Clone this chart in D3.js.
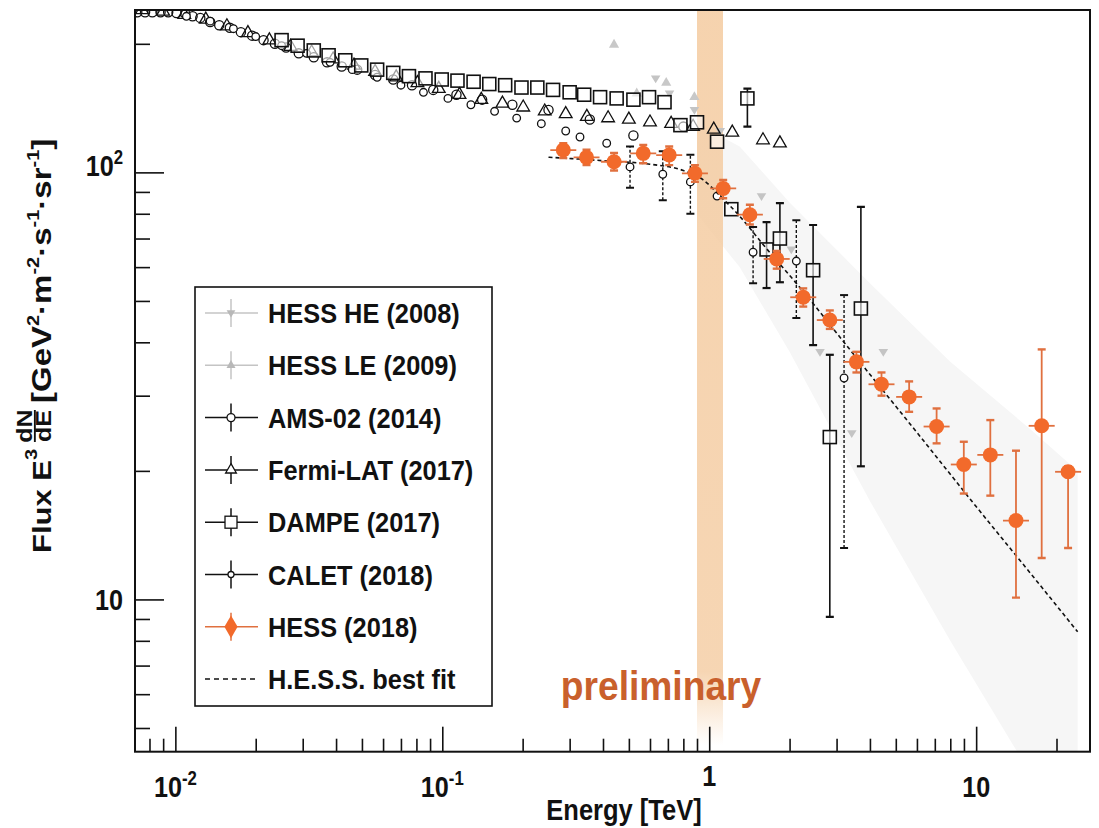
<!doctype html>
<html>
<head>
<script src="https://cdnjs.cloudflare.com/ajax/libs/d3/7.8.5/d3.min.js"></script>
<style>
body { margin: 0; background: #fff; }
text { font-family: "Liberation Sans", Arial, sans-serif; font-weight: bold; fill: #111; }
</style>
</head>
<body>
<svg id="chart" width="1099" height="828"></svg>
<script>
// ---- data (E in TeV, flux E^3 dN/dE in GeV^2 m^-2 s^-1 sr^-1) ----
const amsE = [0.0072,0.0077,0.0082,0.0088,0.0094,0.0101,0.0109,0.0116,0.0124,0.0135,0.0146,0.016,0.0176,0.0194,0.0214,0.0236,0.026,0.029,0.033,0.037,0.042,0.048,0.056,0.0655,0.077,0.0925,0.113,0.141,0.183,0.25,0.357,0.52,0.80];
const amsF = [237,237,237,237,237,236,235,232,230,225,221,218,213,209,204,200,196,190,186,181,177,174,169,165,160,156,152,148,144,140,133,122,128];

const fermiE = [0.0075,0.009,0.0108,0.013,0.0156,0.0187,0.0225,0.027,0.0324,0.039,0.0467,0.056,0.0672,0.0807,0.097,0.116,0.14,0.168,0.201,0.242,0.29,0.348,0.418,0.50,0.60,0.72,0.87,1.04,1.22,1.59,1.84];
const fermiF = [240,238,234,228,220,212,204,197,191,184,178,172,167,162,157,152,148,145,142,139,137,135,134,133,131,130,128,126,124,119,117];

const dampeE = [0.025,0.0287,0.033,0.0375,0.0433,0.0497,0.057,0.0655,0.075,0.0865,0.0995,0.114,0.131,0.15,0.172,0.198,0.227,0.26,0.30,0.34,0.39,0.45,0.52,0.595,0.68,0.78,0.9,1.07,1.21,1.39,1.64,1.84,2.45,2.83,3.7];
const dampeF = [204,198,193,188,183,178,174,171,168,166,165,164,163,161,160,158,158,156,154,152,150,149,148,150,146,129,131,118,82,149,66,70,59,24,48];
const dampeErrE = [1.39,1.64,1.84,2.45,2.83,3.7];
const dampeErrLo = [128,53.6,55.3,39.4,9.1,20.5];
const dampeErrHi = [157,76.5,84.7,75.3,37.4,83];

const caletE = [0.011,0.0135,0.0165,0.02,0.025,0.031,0.038,0.046,0.057,0.07,0.085,0.105,0.128,0.157,0.19,0.235,0.29,0.328,0.413,0.505,0.67,0.85,1.07,1.46,2.12,3.2];
const caletF = [232,226,217,208,198,190,181,174,167,160,154,149,144,139,134,130,125,121,117,103,99,95,88,65,62,33];
const caletErrE = [0.505,0.67,0.85,1.46,2.12,3.2];
const caletErrLo = [92,86,80,55,45.6,13.2];
const caletErrHi = [115,112,110,74.5,77.3,51.6];

const hessHeE = [0.63,0.71,0.88,1.1,1.57,2.03,2.6,3.42,4.49];
const hessHeF = [166,153,140,125,88,66,38,24.5,38];
const hessLeE = [0.44,0.535,0.69,0.88];
const hessLeF = [199,153,162,150];

const hessE = [0.284,0.347,0.44,0.566,0.708,0.884,1.128,1.42,1.79,2.25,2.83,3.56,4.42,5.61,7.11,8.99,11.3,14.1,17.6,22.1];
const hessF = [112.8,108.4,105.9,110.8,109.8,99.5,91.7,79.6,62.7,51.0,45.1,36.0,31.9,29.8,25.4,20.7,21.8,15.3,25.5,19.9];
const hessLo = [108,104,101,105,104,95,87,75.5,59.5,48.5,43,34,30,27.5,23.2,17.7,17.5,10.1,12.5,13.2];
const hessHi = [117,113,111,116,115,104,96,84,65.5,53.5,47.5,38,34,32.4,28.0,23.4,26.3,22.3,38.5,20.5];

const fitE = [0.25,0.4,0.6,0.8,0.95,1.1,1.3,1.6,2.2,3.5,6,10,16,24];
const fitF = [108.5,106.5,104.5,101,96,88,79,67.5,53.5,37.3,24.6,16.5,11.5,8.4];

const bandE = [0.9,1.3,2,4,8,16,24];
const bandHi = [130,115,85,55,36,25,20];
const bandLo = [80,60,38,17,8,3.9,3.0];

const legendNames = ["HESS HE (2008)","HESS LE (2009)","AMS-02 (2014)","Fermi-LAT (2017)","DAMPE (2017)","CALET (2018)","HESS (2018)","H.E.S.S. best fit"];

// ---- layout ----
const L = 135, R = 1090, T = 10, B = 751.7;
const svg = d3.select("#chart");
const x = d3.scaleLog().domain([0.00706, 26.7]).range([L, R]);
const y = d3.scaleLog().domain([4.40, 240]).range([B, T]);
const orange = "#f26a2b", orangeBar = "#e0703f";

svg.append("rect").attr("width", 1099).attr("height", 828).attr("fill", "#fff");

const defs = svg.append("defs");
defs.append("clipPath").attr("id", "plot").append("rect")
  .attr("x", L).attr("y", T).attr("width", R - L).attr("height", B - T);
const grad = defs.append("linearGradient").attr("id", "bandfade").attr("x1", 0).attr("x2", 0).attr("y1", 0).attr("y2", 1);
grad.append("stop").attr("offset", "0").attr("stop-color", "#f4cba0").attr("stop-opacity", 0.85);
grad.append("stop").attr("offset", "0.9").attr("stop-color", "#f4cba0").attr("stop-opacity", 0.8);
grad.append("stop").attr("offset", "1").attr("stop-color", "#f4cba0").attr("stop-opacity", 0);

const plot = svg.append("g").attr("clip-path", "url(#plot)");

// faint systematic band
plot.append("path")
  .datum(bandE.map((e, i) => [e, bandLo[i], bandHi[i]]))
  .attr("fill", "#f6f6f6")
  .attr("d", d3.area().x(d => x(d[0])).y0(d => y(d[1])).y1(d => y(d[2])));

// 1 TeV band
plot.append("rect").attr("x", 697).attr("width", 26).attr("y", T).attr("height", 735)
  .attr("fill", "url(#bandfade)");

// error bar helper
function bars(g, E, lo, hi, color, width, dash) {
  g.selectAll(null).data(E.map((e, i) => [e, lo[i], hi[i]])).enter().append("line")
    .attr("x1", d => x(d[0])).attr("x2", d => x(d[0]))
    .attr("y1", d => y(d[1])).attr("y2", d => y(d[2]))
    .attr("stroke", color).attr("stroke-width", width).attr("stroke-dasharray", dash || null);
  g.selectAll(null).data(E.flatMap((e, i) => [[e, lo[i]], [e, hi[i]]])).enter().append("line")
    .attr("x1", d => x(d[0]) - 4).attr("x2", d => x(d[0]) + 4)
    .attr("y1", d => y(d[1])).attr("y2", d => y(d[1]))
    .attr("stroke", color).attr("stroke-width", width + 0.6);
}

const sym = (type, size) => d3.symbol().type(type).size(size);
const triDown = { draw(ctx, size) { const r = Math.sqrt(size) * 0.62; ctx.moveTo(-r, -r * 0.6); ctx.lineTo(r, -r * 0.6); ctx.lineTo(0, r); ctx.closePath(); } };

// gray old HESS
const gHE = plot.append("g");
gHE.selectAll("path").data(hessHeE.map((e, i) => [e, hessHeF[i]])).enter().append("path")
  .attr("transform", d => `translate(${x(d[0])},${y(d[1])})`)
  .attr("d", sym(triDown, 60)).attr("fill", "#c4c4c4");
const gLE = plot.append("g");
gLE.selectAll("path").data(hessLeE.map((e, i) => [e, hessLeF[i]])).enter().append("path")
  .attr("transform", d => `translate(${x(d[0])},${y(d[1])})`)
  .attr("d", sym(d3.symbolTriangle, 45)).attr("fill", "#c8c8c8");

// AMS-02
const gA = plot.append("g");
gA.selectAll("circle").data(amsE.map((e, i) => [e, amsF[i]])).enter().append("circle")
  .attr("cx", d => x(d[0])).attr("cy", d => y(d[1])).attr("r", 4.6)
  .attr("fill", "none").attr("stroke", "#111").attr("stroke-width", 1.3);

// Fermi-LAT
const gF = plot.append("g");
gF.selectAll("path").data(fermiE.map((e, i) => [e, fermiF[i]])).enter().append("path")
  .attr("transform", d => `translate(${x(d[0])},${y(d[1])})`)
  .attr("d", sym(d3.symbolTriangle, 70))
  .attr("fill", "none").attr("stroke", "#111").attr("stroke-width", 1.3);

// CALET
const gC = plot.append("g");
bars(gC, caletErrE, caletErrLo, caletErrHi, "#111", 1.4, "3,2");
gC.selectAll("circle").data(caletE.map((e, i) => [e, caletF[i]])).enter().append("circle")
  .attr("cx", d => x(d[0])).attr("cy", d => y(d[1])).attr("r", 3.8)
  .attr("fill", "#fff").attr("stroke", "#111").attr("stroke-width", 1.3);

// DAMPE
const gD = plot.append("g");
bars(gD, dampeErrE, dampeErrLo, dampeErrHi, "#111", 1.6);
gD.selectAll("rect").data(dampeE.map((e, i) => [e, dampeF[i]])).enter().append("rect")
  .attr("x", d => x(d[0]) - 6.5).attr("y", d => y(d[1]) - 6.5).attr("width", 13).attr("height", 13)
  .attr("fill", "#fff").attr("fill-opacity", 0.6).attr("stroke", "#111").attr("stroke-width", 1.6);

// HESS best fit
plot.append("path").datum(fitE.map((e, i) => [e, fitF[i]]))
  .attr("fill", "none").attr("stroke", "#111").attr("stroke-width", 1.6).attr("stroke-dasharray", "4,3")
  .attr("d", d3.line().x(d => x(d[0])).y(d => y(d[1])).curve(d3.curveMonotoneX));

// HESS 2018
const gH = plot.append("g");
bars(gH, hessE, hessLo, hessHi, orangeBar, 1.8);
gH.selectAll("line.h").data(hessE.map((e, i) => [e, hessF[i]])).enter().append("line").attr("class", "h")
  .attr("x1", d => x(d[0]) - 13).attr("x2", d => x(d[0]) + 13)
  .attr("y1", d => y(d[1])).attr("y2", d => y(d[1]))
  .attr("stroke", orangeBar).attr("stroke-width", 1.8);
gH.selectAll("circle").data(hessE.map((e, i) => [e, hessF[i]])).enter().append("circle")
  .attr("cx", d => x(d[0])).attr("cy", d => y(d[1])).attr("r", 7.5)
  .attr("fill", orange);

// ---- frame and axes ----
const majX = [0.01, 0.1, 1, 10];
const minX = x.ticks().filter(v => !majX.includes(v));
const majY = [10, 100];
const minY = y.ticks().filter(v => !majY.includes(v));

const ax = [
  [d3.axisBottom(x).tickValues(majX).tickSize(-25), `translate(0,${B})`],
  [d3.axisBottom(x).tickValues(minX).tickSize(-13), `translate(0,${B})`],
  [d3.axisLeft(y).tickValues(majY).tickSize(-29), `translate(${L},0)`],
  [d3.axisLeft(y).tickValues(minY).tickSize(-15), `translate(${L},0)`]
];
ax.forEach(([a, t]) => {
  const g = svg.append("g").attr("transform", t).call(a.tickFormat(""));
  g.select(".domain").remove();
  g.selectAll("line").attr("stroke", "#111").attr("stroke-width", 1.6);
});
svg.append("rect").attr("x", L).attr("y", T).attr("width", R - L).attr("height", B - T)
  .attr("fill", "none").attr("stroke", "#111").attr("stroke-width", 2);

// scaled (condensed) text helper
function label(px, py, anchor, size, sx, parts) {
  const g = svg.append("g").attr("transform", `translate(${px},${py}) scale(${sx},1)`);
  const t = g.append("text").attr("text-anchor", anchor).attr("font-size", size);
  parts.forEach(p => {
    const s = t.append("tspan").text(p[0]);
    if (p[1]) s.attr("dy", p[1]);
    if (p[2]) s.attr("font-size", p[2]);
  });
  return g;
}

// x tick labels
label(x(0.01), 797, "middle", 30, 0.84, [["10"], ["-2", -12, 20]]);
label(x(0.1), 797, "middle", 30, 0.84, [["10"], ["-1", -12, 20]]);
label(x(1), 786, "middle", 30, 0.84, [["1"]]);
label(x(10), 797, "middle", 30, 0.84, [["10"]]);
label(624, 820, "middle", 30, 0.85, [["Energy [TeV]"]]);

// y tick labels
label(123, 176, "end", 30, 0.84, [["10"], ["2", -12, 20]]);
label(123, 610, "end", 30, 0.84, [["10"]]);

// y title (rotated, condensed across the text)
const yt = svg.append("g").attr("transform", "translate(51,553) rotate(-90) scale(1,0.85)");
const t1 = yt.append("text").attr("font-size", 31);
t1.append("tspan").text("Flux E");
t1.append("tspan").text("3").attr("dy", -16).attr("font-size", 20);
yt.append("text").attr("x", 127).attr("y", -22).attr("font-size", 25).attr("text-anchor", "middle").text("dN");
yt.append("line").attr("x1", 111).attr("x2", 143).attr("y1", -19).attr("y2", -19).attr("stroke", "#111").attr("stroke-width", 2.2);
yt.append("text").attr("x", 127).attr("y", 0).attr("font-size", 25).attr("text-anchor", "middle").text("dE");
const t2 = yt.append("text").attr("x", 150).attr("font-size", 33);
[["[GeV"], ["2", -14, 20], ["·m", 14], ["-2", -14, 20], ["·s", 14], ["-1", -14, 20], ["·sr", 14], ["-1", -14, 20], ["]", 14]]
  .forEach(p => { const s = t2.append("tspan").text(p[0]); if (p[1]) s.attr("dy", p[1]); if (p[2]) s.attr("font-size", p[2]); });

// preliminary
label(661, 700, "middle", 40, 0.93, [["preliminary"]]).select("text").style("fill", "#c9602c");

// ---- legend ----
const lg = svg.append("g");
lg.append("rect").attr("x", 195).attr("y", 287).attr("width", 297).attr("height", 419)
  .attr("fill", "#fff").attr("stroke", "#111").attr("stroke-width", 1.6);
const rowY = legendNames.map((n, i) => 313 + i * 52.3);
legendNames.forEach((n, i) => {
  const ry = rowY[i], cx = 231;
  label(268, ry + 10, "start", 27, 0.94, [[n]]);
  const c = i < 2 ? "#c4c4c4" : (i === 6 ? orangeBar : "#111");
  if (i === 7) {
    lg.append("line").attr("x1", 205).attr("x2", 258).attr("y1", ry).attr("y2", ry)
      .attr("stroke", "#111").attr("stroke-width", 1.5).attr("stroke-dasharray", "5,4");
    return;
  }
  lg.append("line").attr("x1", 205).attr("x2", 258).attr("y1", ry).attr("y2", ry).attr("stroke", c).attr("stroke-width", 1.5);
  lg.append("line").attr("x1", cx).attr("x2", cx).attr("y1", ry - 14).attr("y2", ry + 14).attr("stroke", c).attr("stroke-width", 1.5);
  const m = lg.append("g").attr("transform", `translate(${cx},${ry})`);
  if (i === 0) m.append("path").attr("d", sym(triDown, 50)).attr("fill", "#b8b8b8");
  if (i === 1) m.append("path").attr("d", sym(d3.symbolTriangle, 35)).attr("fill", "#b8b8b8");
  if (i === 2) m.append("circle").attr("r", 4).attr("fill", "#fff").attr("stroke", "#111").attr("stroke-width", 1.3);
  if (i === 3) m.append("path").attr("d", sym(d3.symbolTriangle, 50)).attr("fill", "#fff").attr("stroke", "#111").attr("stroke-width", 1.3);
  if (i === 4) m.append("rect").attr("x", -6).attr("y", -6).attr("width", 12).attr("height", 12).attr("fill", "#fff").attr("stroke", "#111").attr("stroke-width", 1.3);
  if (i === 5) m.append("circle").attr("r", 3).attr("fill", "#fff").attr("stroke", "#111").attr("stroke-width", 1.3);
  if (i === 6) m.append("path").attr("d", sym(d3.symbolDiamond, 150)).attr("fill", orange);
});
</script>
</body>
</html>
